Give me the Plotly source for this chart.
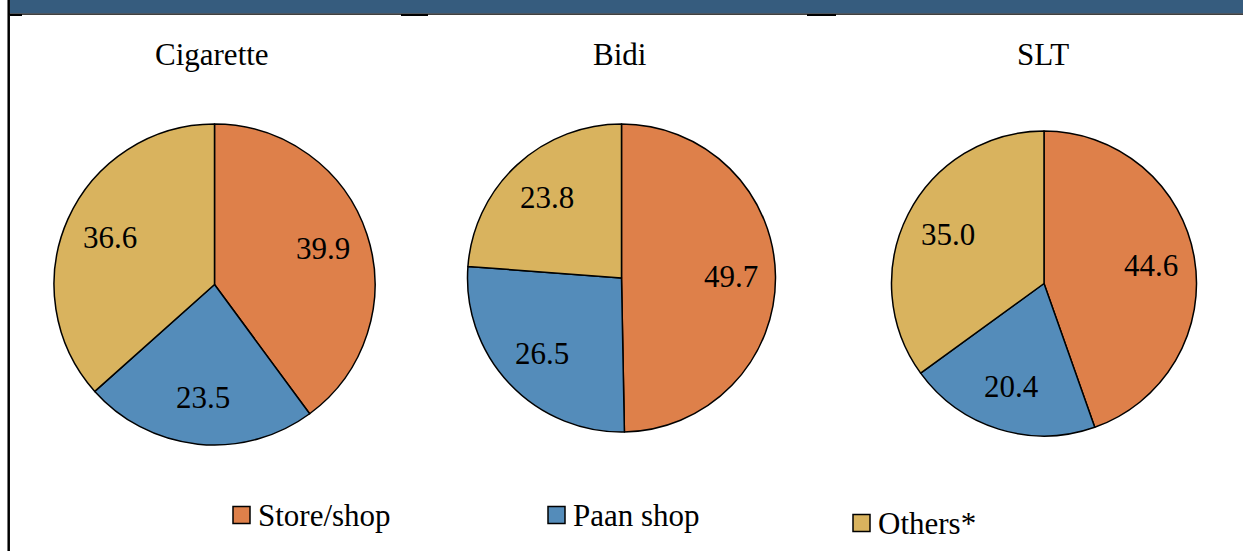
import math
import plotly.graph_objects as go

# Purchase source shares (%) by tobacco product
products = ["Cigarette", "Bidi", "SLT"]
sources = ["Store/shop", "Paan shop", "Others*"]
cigarette = [39.9, 23.5, 36.6]
bidi = [49.7, 26.5, 23.8]
slt = [44.6, 20.4, 35.0]

colors = ["#DE804A", "#548CBA", "#D9B35E"]
FONT = "Liberation Serif"
W, H = 1243, 551

# Pie placement in pixels: (centre x, centre y, radius)
geom = [(214.5, 284.5, 160.5), (621.5, 278.0, 154.0), (1044.0, 283.5, 152.5)]
LABEL_R = 0.71  # value labels sit at this fraction of the radius

fig = go.Figure()
for name, vals, (cx, cy, r) in zip(products, [cigarette, bidi, slt], geom):
    fig.add_trace(go.Pie(
        labels=sources,
        values=vals,
        sort=False,
        direction="clockwise",
        rotation=0,
        marker=dict(colors=colors, line=dict(color="black", width=1.5)),
        textinfo="none",
        domain=dict(x=[(cx - r) / W, (cx + r) / W],
                    y=[(H - cy - r) / H, (H - cy + r) / H]),
        showlegend=False,
        hoverinfo="skip",
        name=name,
    ))
    # value labels along each slice's mid-angle (clockwise from 12 o'clock)
    total = sum(vals)
    cum = 0.0
    for v in vals:
        mid = (cum + v / 2) / total * 2 * math.pi
        cum += v
        lx = cx + LABEL_R * r * math.sin(mid)
        ly = cy - LABEL_R * r * math.cos(mid)
        fig.add_annotation(x=lx / W, y=1 - ly / H, xref="paper", yref="paper",
                           text=f"{v:.1f}", showarrow=False,
                           font=dict(family=FONT, size=31, color="black"),
                           xanchor="center", yanchor="middle")

# Product titles above each pie
title_pos = [(212, 55), (620, 55), (1043, 55)]
for name, (tx, ty) in zip(products, title_pos):
    fig.add_annotation(x=tx / W, y=1 - ty / H, xref="paper", yref="paper",
                       text=name, showarrow=False,
                       font=dict(family=FONT, size=31, color="black"),
                       xanchor="center", yanchor="middle")

shapes = []
# Header band and frame lines
shapes.append(dict(type="rect", xref="paper", yref="paper",
                   x0=10 / W, x1=1, y0=1 - 13.5 / H, y1=1,
                   fillcolor="#365C7E", line=dict(width=0), layer="above"))
shapes.append(dict(type="line", xref="paper", yref="paper",
                   x0=9 / W, x1=1, y0=1 - 14.2 / H, y1=1 - 14.2 / H,
                   line=dict(color="black", width=1.2), layer="above"))
shapes.append(dict(type="line", xref="paper", yref="paper",
                   x0=8.7 / W, x1=8.7 / W, y0=0, y1=1,
                   line=dict(color="black", width=2.5), layer="above"))
for x0, x1 in [(10, 22), (401, 428), (807, 836)]:
    shapes.append(dict(type="line", xref="paper", yref="paper",
                       x0=x0 / W, x1=x1 / W, y0=1 - 15 / H, y1=1 - 15 / H,
                       line=dict(color="black", width=2), layer="above"))

# Legend: swatch boxes with labels
legend_pos = [(233, 515), (548, 515), (853, 523)]
for label, col, (lx, ly) in zip(sources, colors, legend_pos):
    shapes.append(dict(type="rect", xref="paper", yref="paper",
                       x0=lx / W, x1=(lx + 17) / W,
                       y0=1 - (ly + 8.5) / H, y1=1 - (ly - 8.5) / H,
                       fillcolor=col, line=dict(color="black", width=1.5)))
    fig.add_annotation(x=(lx + 23) / W, y=1 - ly / H, xref="paper", yref="paper",
                       text=label, showarrow=False,
                       font=dict(family=FONT, size=31, color="black"),
                       xanchor="left", yanchor="middle")

fig.update_layout(
    width=W, height=H,
    margin=dict(l=0, r=0, t=0, b=0),
    paper_bgcolor="white",
    plot_bgcolor="white",
    font=dict(family=FONT),
    shapes=shapes,
)

fig.write_html("out.html")
